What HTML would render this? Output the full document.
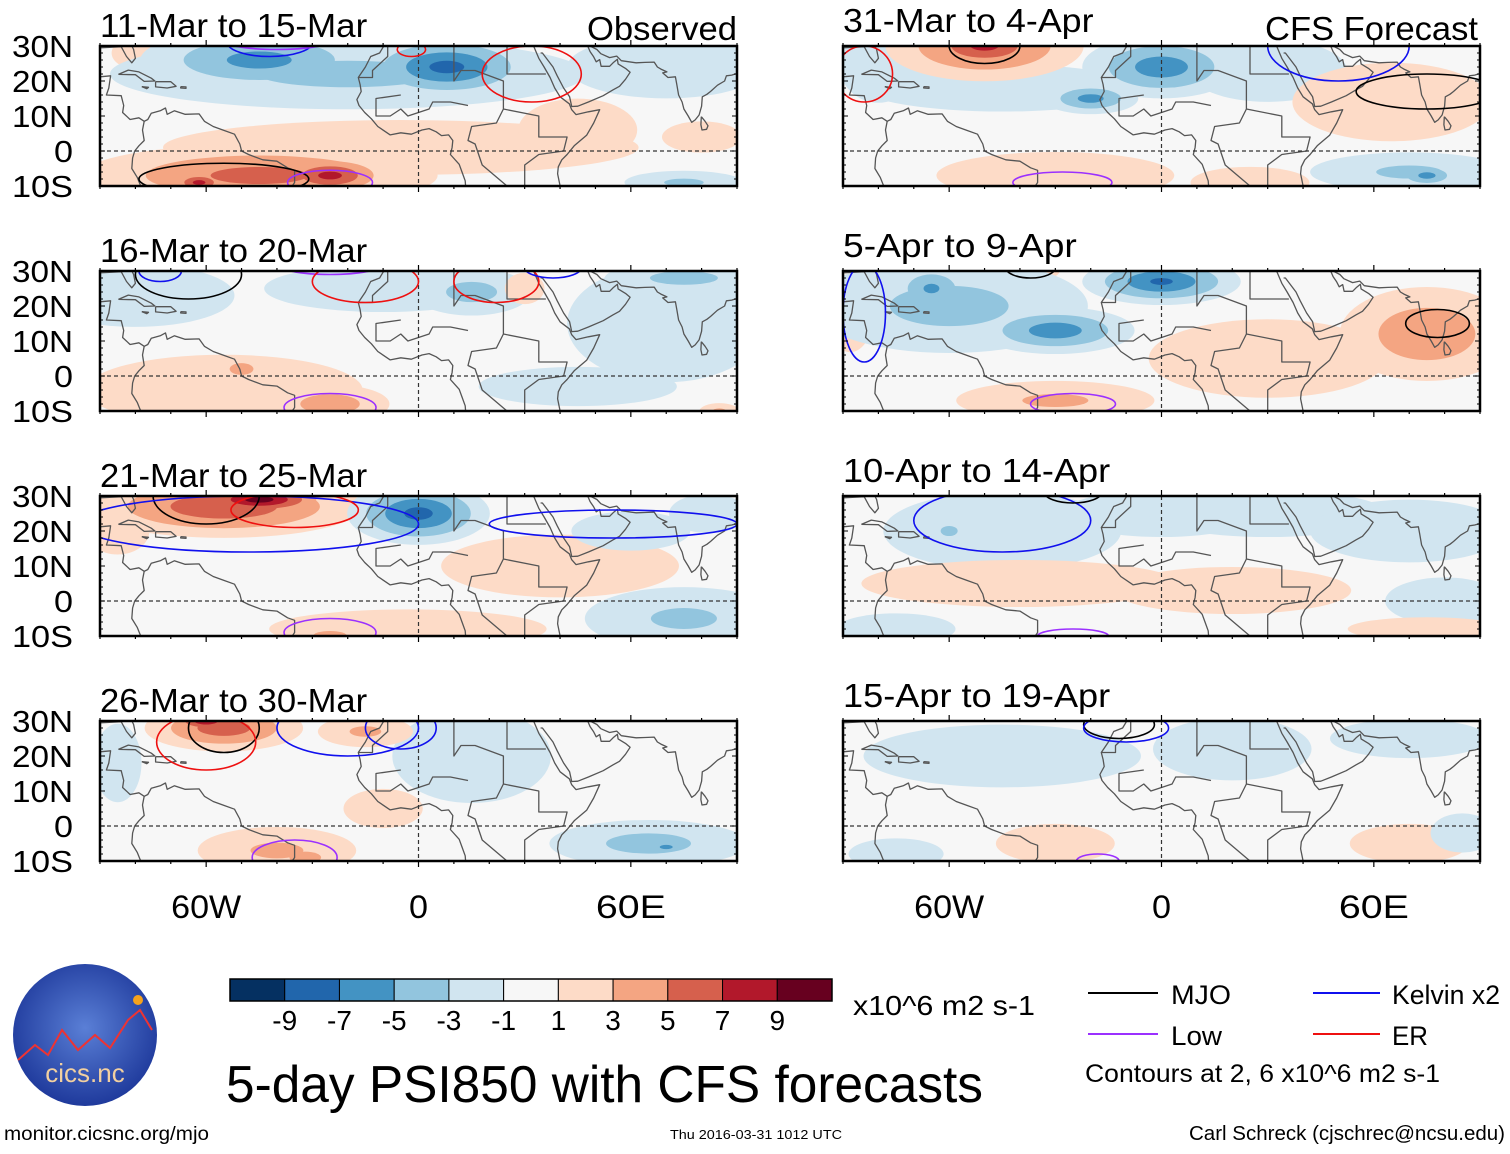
<!DOCTYPE html>
<html><head><meta charset="utf-8">
<style>
html,body{margin:0;padding:0;background:#fff;}
svg text{font-family:"Liberation Sans",Arial,sans-serif;fill:#000;}
</style></head>
<body>
<svg id="fig" xmlns="http://www.w3.org/2000/svg" width="1510" height="1149" viewBox="0 0 1510 1149">
<defs id="defs"></defs>
<g id="panels"></g>
<g id="bottom">
  <g>
    <defs><radialGradient id="lg" cx="50%" cy="45%" r="55%"><stop offset="0" stop-color="#5a7fd6"/><stop offset="1" stop-color="#1f3a9c"/></radialGradient></defs>
    <ellipse cx="85" cy="1035" rx="72" ry="71" fill="url(#lg)"/>
    <path d="M18,1060 L35,1045 L48,1055 L62,1030 L78,1050 L95,1035 L110,1048 L128,1020 L140,1010 L152,1030" stroke="#e33" stroke-width="2" fill="none"/>
    <circle cx="138" cy="1000" r="5" fill="#f6a21c"/>
    <text x="85" y="1082" font-size="26" text-anchor="middle" style="fill:#f2d0a0">cics.nc</text>
  </g>
  <text x="4" y="1140" font-size="19" textLength="205" lengthAdjust="spacingAndGlyphs">monitor.cicsnc.org/mjo</text>
  <text x="670" y="1139" font-size="13" textLength="172" lengthAdjust="spacingAndGlyphs">Thu 2016-03-31 1012 UTC</text>
  <text x="1505" y="1140" font-size="20" text-anchor="end" textLength="316" lengthAdjust="spacingAndGlyphs">Carl Schreck (cjschrec@ncsu.edu)</text>
  <text x="226" y="1102" font-size="52" textLength="757" lengthAdjust="spacingAndGlyphs">5-day PSI850 with CFS forecasts</text>
  <text x="853" y="1015" font-size="28" textLength="182" lengthAdjust="spacingAndGlyphs">x10^6 m2 s-1</text>
  <g>
    <line x1="1088" y1="993" x2="1158" y2="993" stroke="#000" stroke-width="2"/>
    <text x="1171" y="1004" font-size="27" textLength="60" lengthAdjust="spacingAndGlyphs">MJO</text>
    <line x1="1313" y1="993" x2="1380" y2="993" stroke="#1010ee" stroke-width="2"/>
    <text x="1392" y="1004" font-size="27" textLength="108" lengthAdjust="spacingAndGlyphs">Kelvin x2</text>
    <line x1="1088" y1="1034" x2="1158" y2="1034" stroke="#9b30ff" stroke-width="2"/>
    <text x="1171" y="1045" font-size="27" textLength="51" lengthAdjust="spacingAndGlyphs">Low</text>
    <line x1="1313" y1="1034" x2="1380" y2="1034" stroke="#ee1010" stroke-width="2"/>
    <text x="1392" y="1045" font-size="27" textLength="36" lengthAdjust="spacingAndGlyphs">ER</text>
    <text x="1085" y="1082" font-size="25" textLength="355" lengthAdjust="spacingAndGlyphs">Contours at 2, 6 x10^6 m2 s-1</text>
  </g>
  <g id="cbar"></g>
</g>
</svg>
<script>
// ---------- data ----------
const levelColors = ["#053061","#2166ac","#4393c3","#92c5de","#d1e5f0","#f7f7f7","#fddbc7","#f4a582","#d6604d","#b2182b","#67001f"];
const levelTicks = ["-9","-7","-5","-3","-1","1","3","5","7","9"];
const thresholds = [1,3,5,7,9];
const panelTitles = ["11-Mar to 15-Mar","16-Mar to 20-Mar","21-Mar to 25-Mar","26-Mar to 30-Mar","31-Mar to 4-Apr","5-Apr to 9-Apr","10-Apr to 14-Apr","15-Apr to 19-Apr"];
const latTicks = ["30N","20N","10N","0","10S"];
const latTickValues = [30,20,10,0,-10];
const lonTicks = ["60W","0","60E"];
const lonTickValues = [-60,0,60];
// blobs: [lon, lat, rxDeg, ryDeg, value]
const field1 = [[-80,28,6,4,2],[-20,22,60,9,-3.2],[-45,26,30,8,-5.5],[8,24,22,8,-7.5],[70,24,25,8,-2.5],[-5,1,60,7,2.5],[45,6,15,8,2],[80,4,10,4,2],[75,-9,15,3,-3],[-45,-7,45,8,5.5],[-25,-7,15,5,7.5],[-62,-9,8,3,7.5]];
const field2 = [[-55,-4,35,9,2.5],[-25,-8,15,5,4],[-50,2,6,3,4],[-80,23,25,8,-2],[-10,25,30,6,-2.5],[15,24,15,6,-3.5],[70,15,25,15,-2.5],[75,28,20,4,-3.5],[45,-3,25,5,-2],[30,25,5,4,2],[85,-10,5,2,3]];
const field3 = [[-85,20,8,6,2],[40,10,30,8,1.8],[-3,-8,35,5,2],[-25,-10,10,3,3.5],[75,-5,25,8,-3],[82,25,10,5,-2],[60,20,15,5,-1.5],[-55,27,35,8,6.5],[-45,29,18,4,10],[0,25,18,8,-7.5]];
const field4 = [[-10,5,10,5,1.5],[-85,18,6,10,-2.5],[15,20,20,12,-2.5],[-15,27,12,4,3],[-40,-7,20,6,3],[-32,-9,8,3,4],[65,-5,25,6,-3.5],[70,-6,6,2,-5.5],[-55,28,20,6,6],[-60,30,10,3,8.5]];
const field5 = [[-45,18,35,6,-2],[-80,25,10,10,-2.5],[30,23,20,8,-2],[-30,-7,30,6,2.5],[65,14,25,10,2.5],[25,-9,15,4,2.5],[70,-6,25,5,-3],[75,-7,8,3,-5.5],[0,24,20,8,-6],[-20,15,12,4,-5.5],[-50,30,25,9,6],[-50,30,12,4,8.5]];
const field6 = [[30,5,30,10,1.8],[-88,18,6,10,2],[-40,30,10,3,2],[-60,20,35,12,-3.5],[-30,13,20,6,-6],[-65,25,10,6,-5],[0,27,20,6,-7],[75,12,22,12,4.5],[-30,-7,25,5,3]];
const field7 = [[-45,20,30,10,-2],[-60,20,5,3,-3.5],[0,25,25,6,-2],[30,25,30,6,-2],[70,20,25,8,-2],[-40,5,40,6,1.6],[20,3,30,6,1.6],[80,0,15,6,-1.5],[75,-8,20,3,1.6],[-75,-8,15,4,-1.5]];
const field8 = [[-45,20,35,8,-2],[20,22,20,8,-2],[70,25,20,5,-1.8],[-30,-5,15,5,1.5],[70,-5,15,5,1.5],[85,-2,8,5,-1.5],[-75,-8,12,4,-1.6]];
// contours: [type, lon, lat, rxDeg, ryDeg]
const contours1 = [["mjo",-55,-8,24,4.5],["low",-25,-9,12,3.5],["kelvin",-42,31,12,4],["low",-40,32,16,3],["er",32,22,14,8],["er",-2,29,4,2]];
const contours2 = [["mjo",-65,29,15,7],["kelvin",-73,30,6,3],["low",-25,32,15,3],["er",-15,27,15,6],["er",22,27,12,6],["kelvin",38,31,8,3],["low",-25,-9,13,4]];
const contours3 = [["mjo",-60,30,15,8],["kelvin",-48,22,48,8],["kelvin",55,22,35,4],["er",-35,26,18,5],["low",-25,-9,13,4],["low",-25,32,12,2]];
const contours4 = [["mjo",-55,28,10,7],["er",-60,24,14,8],["kelvin",-20,28,20,8],["kelvin",-5,28,10,6],["low",-35,-9,12,5]];
const contours5 = [["mjo",-50,30,10,5],["er",-84,22,8,8],["kelvin",50,30,20,10],["mjo",75,17,20,5],["low",-28,-9,14,3]];
const contours6 = [["mjo",-37,31,7,3],["mjo",78,15,9,4],["low",-25,-8,12,3],["kelvin",-84,18,6,14]];
const contours7 = [["kelvin",-45,23,25,9],["mjo",-25,31,8,3],["low",-25,-10,10,2]];
const contours8 = [["mjo",-12,29,10,4],["kelvin",-10,28,12,4],["low",-18,-10,6,2]];
const fields = [field1,field2,field3,field4,field5,field6,field7,field8];
const contourSets = [contours1,contours2,contours3,contours4,contours5,contours6,contours7,contours8];
const coasts = [
 [[-90,29.5],[-84,29.8],[-82.5,27],[-81,25.2],[-80,26.5],[-80.5,29],[-81.2,30.5]],
 [[-90,21.2],[-87,21.5],[-87.5,18],[-88.2,16],[-84,15.8],[-83.3,13],[-83.6,11],[-81.5,9],[-79,9.5],[-77.5,8.5],[-76.5,9],[-75.5,10.8],[-73,11.5],[-71.5,12.3],[-71,10.5],[-69,11.5],[-66,10.5],[-62,10.6],[-60.5,8.5],[-58,7],[-55,5.9],[-52,4.8],[-50.5,2],[-50,0],[-48,-1],[-44,-2.5],[-40,-2.9],[-37,-4.8],[-35,-5.5],[-35,-9],[-36,-10.5]],
 [[-77.5,8.5],[-78,6],[-77.5,3],[-79,1.5],[-80.2,0],[-80.8,-2],[-81,-5],[-79.5,-7.5],[-78.5,-10]],
 [[-84.8,21.9],[-82,23.1],[-79,22.6],[-75.5,20.8],[-74.5,20],[-77.5,19.9],[-80,21.8],[-84.8,21.9]],
 [[-74.3,19.8],[-70,19.8],[-68.5,18.5],[-71,18],[-74.3,18.3],[-74.3,19.8]],
 [[-78.2,18.4],[-76.3,18.2],[-76.8,17.8],[-78.2,18.4]],
 [[-67.2,18.4],[-65.7,18.3],[-65.7,17.9],[-67.2,18],[-67.2,18.4]],
 [[-9.8,30],[-11,28],[-13.5,27],[-15,24],[-17,21],[-16.5,19],[-16.2,17],[-17.4,14.7],[-16.8,13],[-15.2,11],[-13.3,9.2],[-11.5,7],[-8,4.6],[-5,5.2],[-2,4.8],[1,6],[3,6.4],[5,5.5],[6.5,4.4],[8.5,4.6],[9.7,3],[9.5,1],[9,-1],[11.5,-3.8],[12.3,-6],[13.2,-8.5],[13.3,-10]],
 [[40,-10],[39.3,-6.5],[39.5,-4.5],[40.5,-2.5],[42,-1],[44,1.5],[47.5,4.5],[49.5,8],[51.2,11.8],[48,11.2],[44.5,10.4],[43.3,11.8],[42.6,13.5],[40,15.5],[38.5,18],[37.2,21],[35.5,24],[34,26.5],[32.6,29.8]],
 [[34.5,28],[35,28],[36.5,26],[38,24],[39.2,21.5],[41,18],[42.7,15.5],[43.3,12.7],[45,12.8],[48,14],[52.2,15.8],[55,17.5],[56.8,18.5],[58.5,20.5],[59.8,22.5],[58.5,23.6],[56.4,24.9],[56.2,26.2],[55,25.2],[54,24.2],[51.6,24.2],[51.2,26.1],[50.2,25.5],[49.5,26.9],[48.5,28.4],[47.9,29.8],[48.5,30]],
 [[48.5,30],[50.4,29],[51.5,27.8],[54,26.7],[56,27.1],[57.3,25.8],[61.5,25.2],[64,25.3],[66.6,25.4],[67.5,24],[68.5,23.4],[70.2,22.6],[69,22.3],[70.5,21],[72.6,21.2],[73,19],[73.5,16],[74.5,14],[75,12],[76.2,10],[77.2,8.2],[78.2,8.9],[79.3,10.3],[80,12.8],[80.2,15.5],[81.5,16.2],[82.5,17],[84.5,18.8],[86.5,20],[87,21.5],[88.5,21.7],[89.5,22],[90,22]],
 [[79.9,9.8],[81,8.5],[81.8,7.2],[81.4,6.2],[80.1,6],[79.8,7.5],[79.9,9.8]],
 [[-17,21],[-13,21],[-13,23],[-8.7,27],[-8.7,30]],
 [[-5,16],[-12,15],[-12,10],[-8,10],[-5,12],[-3,10],[3,12],[4,14],[9,14],[14,13]],
 [[10,30],[10,20],[12,23],[16,23],[24,20],[24,12],[22,8],[15,7],[14,3],[16,2],[18,-4],[25,-10]],
 [[25,30],[25,22],[36,22]],[[24,12],[34,10],[34,4],[42,4],[41,0],[34,-1],[30,-4],[30,-10]]
];
// ---------- geometry ----------
const colX = [100,843], rowY = [46,271,496,721], PW = 637, PH = 140;
function lonScale(lon, c){ return colX[c] + (lon + 90) / 180 * PW; }
function latScale(lat, r){ return rowY[r] + (30 - lat) / 40 * PH; }
const NS = "http://www.w3.org/2000/svg";
function mk(tag, attrs, parent){ const e=document.createElementNS(NS,tag); for(const k in attrs) e.setAttribute(k, attrs[k]); parent.appendChild(e); return e; }
function colorFor(v, t){ const idx = v>0 ? 5 + (t+1)/2 : 5 - (t+1)/2; return levelColors[idx]; }
const contourColor = {mjo:"#000000",kelvin:"#1010ee",low:"#9b30ff",er:"#ee1010"};
const panelsG = document.getElementById("panels");
const defs = document.getElementById("defs");

for (let p=0; p<8; p++){
  const c = p<4 ? 0 : 1, r = p%4;
  const x0 = colX[c], y0 = rowY[r];
  const g = mk("g", {}, panelsG);
  
  
  const cp = mk("clipPath", {id:"clip"+p}, defs);
  mk("rect", {x:x0, y:y0, width:PW, height:PH}, cp);
  const inner = mk("g", {"clip-path":"url(#clip"+p+")"}, g);
  mk("rect", {x:x0, y:y0, width:PW, height:PH, fill:levelColors[5]}, inner);
  const pxLon = PW/180, pxLat = PH/40;
  const f = fields[p];
  for (const t of thresholds){
    for (const b of f){
      const a = Math.abs(b[4]);
      if (a < t) continue;
      const s = 1.12 * (a - t + 1) / a;
      const el = mk("ellipse", {cx:lonScale(b[0],c), cy:latScale(b[1],r), rx:b[2]*pxLon*s, ry:b[3]*pxLat*s, fill:colorFor(b[4], t)}, inner);
      
      
    }
  }
  for (const line of coasts){
    const pts = line.map(q => lonScale(q[0],c).toFixed(1)+","+latScale(q[1],r).toFixed(1)).join(" ");
    const pl = mk("polyline", {points:pts, fill:"none", stroke:"#555", "stroke-width":"1.3", "stroke-linejoin":"round"}, inner);
    
    
  }
  mk("line", {x1:x0, y1:latScale(0,r), x2:x0+PW, y2:latScale(0,r), stroke:"#333", "stroke-width":"1.2", "stroke-dasharray":"4,3"}, inner);
  mk("line", {x1:lonScale(0,c), y1:y0, x2:lonScale(0,c), y2:y0+PH, stroke:"#333", "stroke-width":"1.2", "stroke-dasharray":"4,3"}, inner);
  for (const k of contourSets[p]){
    const el = mk("ellipse", {cx:lonScale(k[1],c), cy:latScale(k[2],r), rx:k[3]*pxLon, ry:k[4]*pxLat, fill:"none", stroke:contourColor[k[0]], "stroke-width":"1.6"}, inner);
    
    
  }
  mk("rect", {x:x0, y:y0, width:PW, height:PH, fill:"none", stroke:"#000", "stroke-width":"2.5"}, g);
  for (let lon=-90; lon<=90; lon+=10){
    const x = lonScale(lon,c), major = lon%60===0 && Math.abs(lon)!==90 ? 6 : 3;
    mk("line", {x1:x, y1:y0, x2:x, y2:y0-major, stroke:"#000", "stroke-width":"1.2"}, g);
    mk("line", {x1:x, y1:y0+PH, x2:x, y2:y0+PH+major, stroke:"#000", "stroke-width":"1.2"}, g);
  }
  for (let lat=-10; lat<=30; lat+=2){
    const y = latScale(lat,r), len = lat%10===0 ? 5 : 3;
    mk("line", {x1:x0, y1:y, x2:x0+len, y2:y, stroke:"#000", "stroke-width":"1"}, g);
    mk("line", {x1:x0+PW, y1:y, x2:x0+PW-len, y2:y, stroke:"#000", "stroke-width":"1"}, g);
  }
  const ty = c===0 ? y0-9 : y0-14;
  const tt = mk("text", {x:x0, y:ty, "font-size":"33", lengthAdjust:"spacingAndGlyphs", textLength: panelTitles[p].length*16.7}, g);
  tt.textContent = panelTitles[p];
  
  
  if (p===0){ const o = mk("text", {x:x0+PW, y:y0-6, "font-size":"33", "text-anchor":"end", textLength:150, lengthAdjust:"spacingAndGlyphs"}, g); o.textContent="Observed";   }
  if (p===4){ const o = mk("text", {x:x0+PW-2, y:y0-6, "font-size":"33", "text-anchor":"end", textLength:213, lengthAdjust:"spacingAndGlyphs"}, g); o.textContent="CFS Forecast";   }
  if (c===0){
    for (let i=0;i<latTicks.length;i++){
      const t = mk("text", {x:73, y:latScale(latTickValues[i],r)+11, "font-size":"31", "text-anchor":"end", lengthAdjust:"spacingAndGlyphs", textLength: latTicks[i].length>1 ? 61 : 19}, g);
      t.textContent = latTicks[i];
      
      
    }
  }
  if (r===3){
    for (let i=0;i<lonTicks.length;i++){
      const t = mk("text", {x:lonScale(lonTickValues[i],c), y:918, "font-size":"32", "text-anchor":"middle", lengthAdjust:"spacingAndGlyphs", textLength: lonTicks[i].length>1 ? 70 : 19}, g);
      t.textContent = lonTicks[i];
      
      
    }
  }
}
const cb = document.getElementById("cbar");
const cbx = 230, cbw = 602/11;
for (let i=0;i<levelColors.length;i++){
  const rr = mk("rect", {x:cbx+i*cbw, y:979, width:cbw, height:22, fill:levelColors[i], stroke:"#000", "stroke-width":"1"}, cb);
  
  
}
mk("rect", {x:cbx, y:979, width:602, height:22, fill:"none", stroke:"#000", "stroke-width":"1.5"}, cb);
for (let i=0;i<levelTicks.length;i++){
  const t = mk("text", {x:cbx+(i+1)*cbw, y:1030, "font-size":"28", "text-anchor":"middle"}, cb);
  t.textContent = levelTicks[i];
  
  
}
</script>
</body></html>
